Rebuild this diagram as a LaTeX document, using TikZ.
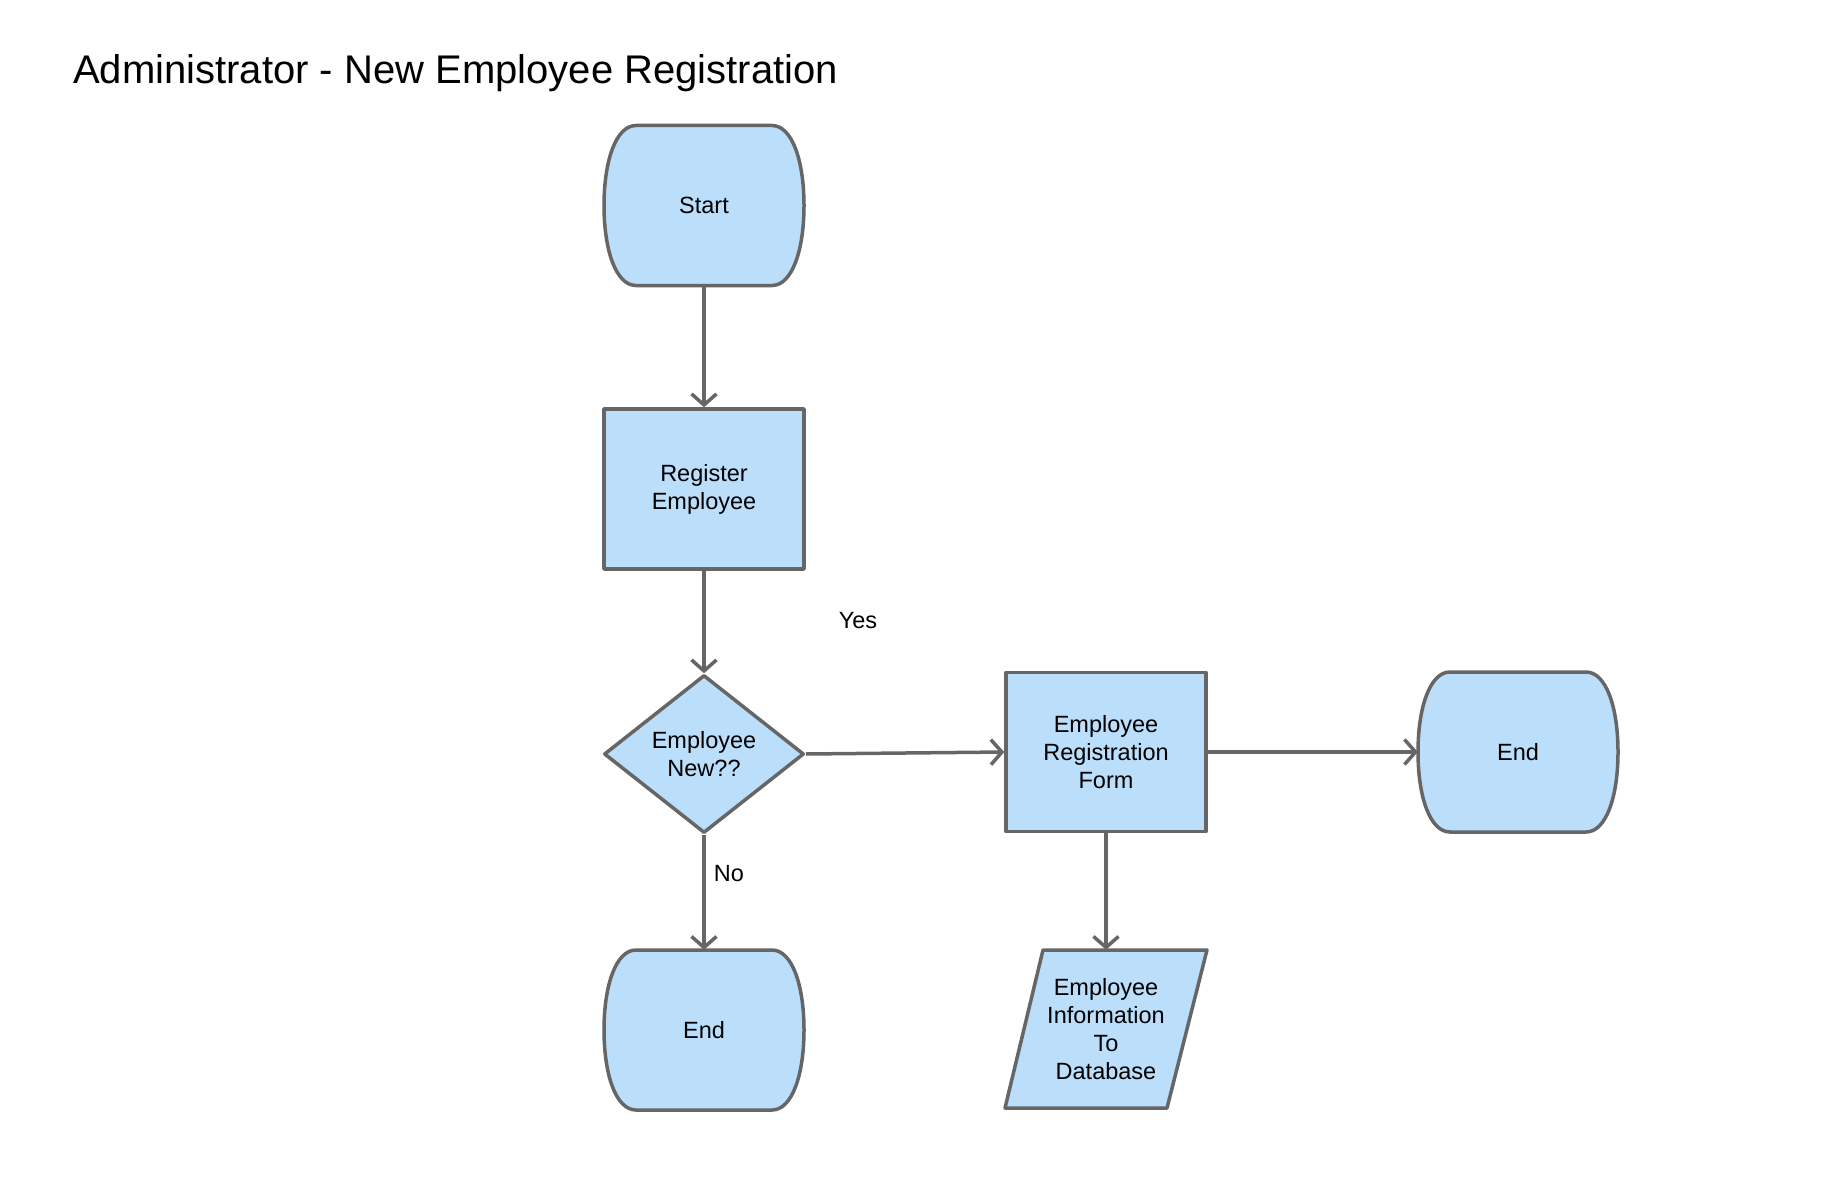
\documentclass[tikz,border=0pt]{standalone}
\usepackage{fontspec}
\setmainfont{Liberation Sans}
\usetikzlibrary{shapes.geometric,arrows.meta}
\definecolor{boxfill}{RGB}{187,222,251}
\definecolor{linegray}{RGB}{102,102,102}
\tikzset{
  shapeline/.style={draw=linegray,line width=3.5pt,fill=boxfill,line join=round},
  procbox/.style={shapeline,rectangle,minimum width=200pt,minimum height=160pt,inner sep=0pt,align=center,font=\fontsize{23.5}{28}\selectfont},
  decbox/.style={shapeline,diamond,aspect=1.27,minimum width=200pt,minimum height=158pt,inner sep=0pt,align=center,font=\fontsize{23.5}{28}\selectfont},
  holder/.style={rectangle,draw=none,minimum width=200pt,minimum height=160pt,inner sep=0pt,align=center,font=\fontsize{23.5}{28}\selectfont},
  lbl/.style={font=\fontsize{23.5}{28}\selectfont,inner sep=0pt},
  flow/.style={draw=linegray,line width=3.5pt,-{Straight Barb[length=11pt,width=25pt]}},
}
\newcommand\termshape[2]{%
  \path[shapeline] (#1-68,#2-80) -- (#1+68,#2-80)
    .. controls (#1+88,#2-80) and (#1+100,#2-45) .. (#1+100,#2)
    .. controls (#1+100,#2+45) and (#1+88,#2+80) .. (#1+68,#2+80)
    -- (#1-68,#2+80)
    .. controls (#1-88,#2+80) and (#1-100,#2+45) .. (#1-100,#2)
    .. controls (#1-100,#2-45) and (#1-88,#2-80) .. (#1-68,#2-80) -- cycle;}
\begin{document}
\begin{tikzpicture}[x=1pt,y=-1pt]
\useasboundingbox (0,0) rectangle (1822,1188);
\node[anchor=base west,inner sep=0pt,font=\fontsize{40}{48}\selectfont] (title) at (73,84) {Administrator - New Employee Registration};

\termshape{704}{205.5}
\node[holder] (start) at (704,205.5) {Start};
\node[procbox] (reg) at (704,489) {Register\\Employee};
\node[decbox] (dec) at (704,754) {Employee\\New??};
\node[procbox,minimum height=159pt] (form) at (1106,752) {Employee\\Registration\\Form};
\termshape{1518}{752}
\node[holder] (endr) at (1518,752) {End};
\termshape{704}{1030}
\node[holder] (endb) at (704,1030) {End};
\path[shapeline] (1043,950) -- (1207,950) -- (1167,1108) -- (1005,1108) -- cycle;
\node[holder,minimum height=158pt] (db) at (1106,1029) {Employee\\Information\\To\\Database};

\draw[flow] (start) -- (reg);
\draw[flow] (reg) -- (dec);
\draw[flow] (dec.east) -- (form.west);
\draw[flow] (dec.south) -- (endb);
\draw[flow] (form) -- (endr);
\draw[flow] (form) -- (db);

\node[lbl] (yes) at (858,621) {Yes};
\node[lbl] (no) at (729,874) {No};
\end{tikzpicture}
\end{document}
